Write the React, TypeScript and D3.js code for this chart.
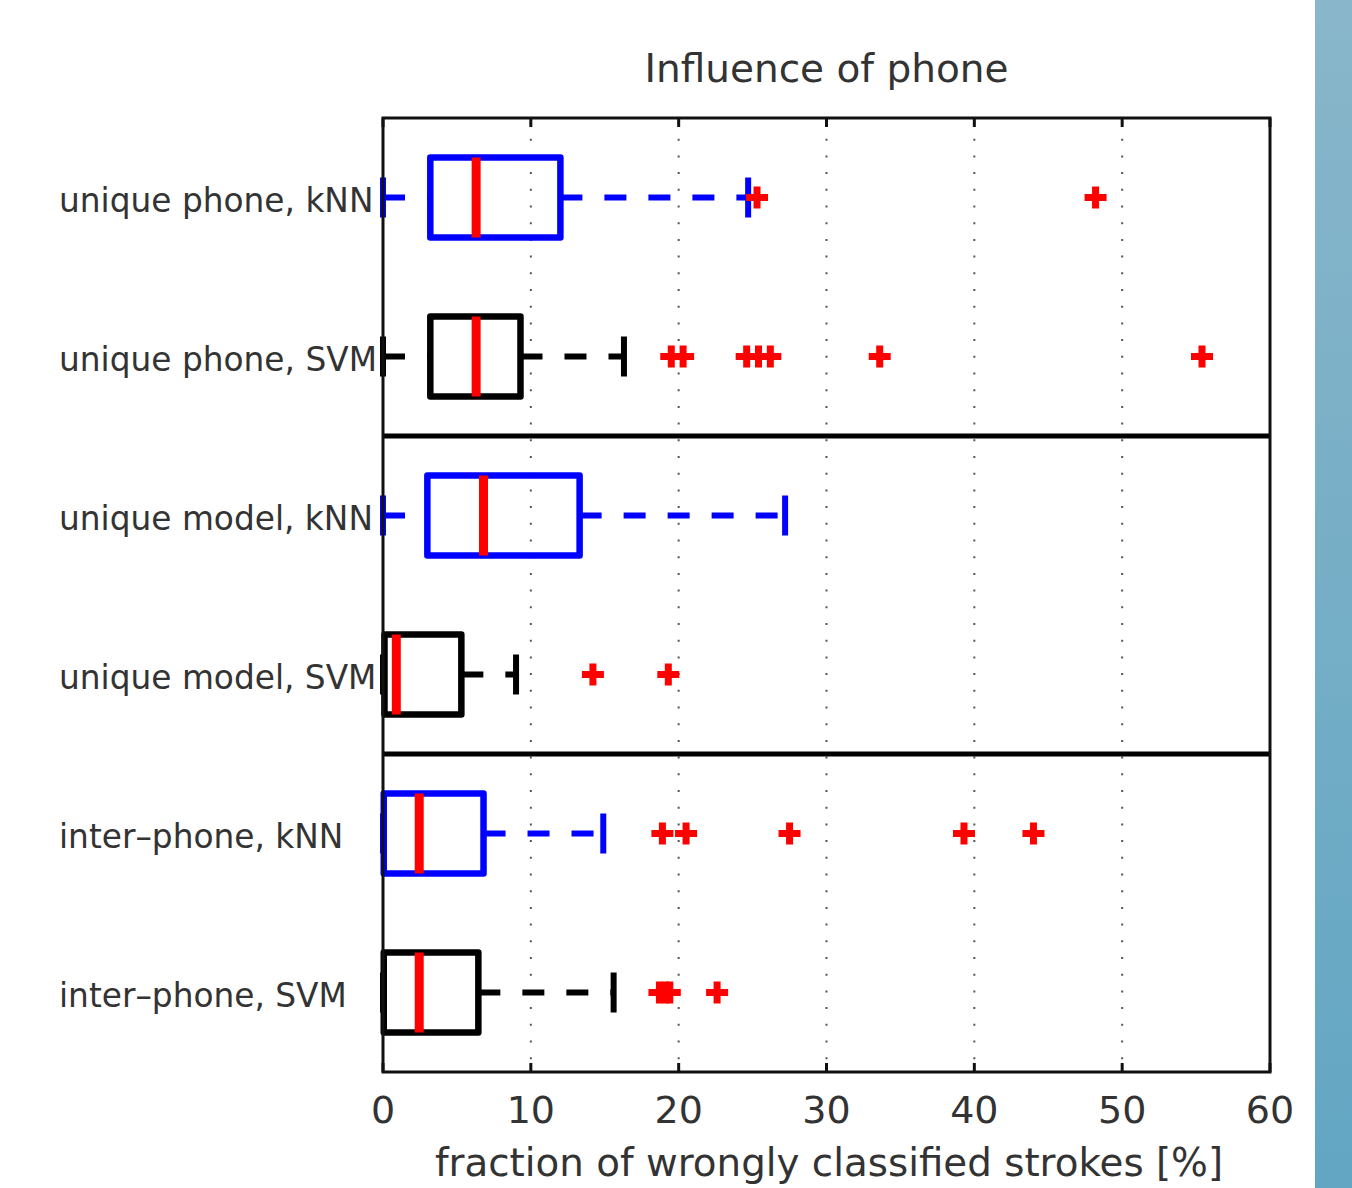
import React from "react";
import * as d3 from "d3";

const categories = [
  "unique phone, kNN",
  "unique phone, SVM",
  "unique model, kNN",
  "unique model, SVM",
  "inter\u2013phone, kNN",
  "inter\u2013phone, SVM",
];
const boxColors = ["#0000ff", "#000000", "#0000ff", "#000000", "#0000ff", "#000000"];
const lowerWhisker = [0, 0, 0, 0, 0, 0];
const q1 = [3.2, 3.2, 3.0, 0.1, 0.05, 0.05];
const median = [6.3, 6.3, 6.8, 0.9, 2.45, 2.45];
const q3 = [12.0, 9.3, 13.3, 5.3, 6.8, 6.45];
const upperWhisker = [24.7, 16.3, 27.2, 9.0, 14.9, 15.6];
const outliers = [
  [25.3, 48.2],
  [19.5, 20.3, 24.6, 25.4, 26.2, 33.6, 55.4],
  [],
  [14.2, 19.3],
  [18.9, 20.5, 27.5, 39.3, 44.0],
  [18.7, 19.1, 19.4, 22.6],
];
const xTicks = [0, 10, 20, 30, 40, 50, 60];
const groupSeparators = [2, 4];

const W = 1352;
const H = 1188;
const left = 383;
const right = 1270;
const top = 118;
const bottom = 1072;

export default function App() {
  const x = d3.scaleLinear().domain([0, 60]).range([left, right]);
  const y = d3.scaleBand<string>().domain(categories).range([top, bottom]).paddingInner(0);
  const bw = y.bandwidth();
  const half = 40;
  const capHalf = 20;
  const font = "'DejaVu Sans', Verdana, sans-serif";

  return (
    <svg
      width={W}
      height={H}
      style={{ position: "absolute", left: 0, top: 0, background: "#fff" }}
    >
      <defs>
        <linearGradient id="sideBar" x1="0" y1="0" x2="0" y2="1">
          <stop offset="0" stopColor="#89b6ca" />
          <stop offset="1" stopColor="#62a6c3" />
        </linearGradient>
      </defs>
      <rect x={1315} y={0} width={W - 1315} height={H} fill="url(#sideBar)" />

      {/* grid */}
      {xTicks.slice(1, -1).map((t) => (
        <line
          key={"g" + t}
          x1={x(t)}
          x2={x(t)}
          y1={top + 4}
          y2={bottom}
          stroke="#555"
          strokeWidth={2}
          strokeDasharray="2 14.7"
        />
      ))}

      {/* ticks */}
      {xTicks.map((t) => (
        <g key={"t" + t}>
          <line x1={x(t)} x2={x(t)} y1={top} y2={top + 9} stroke="#111" strokeWidth={3} />
          <line x1={x(t)} x2={x(t)} y1={bottom} y2={bottom - 9} stroke="#111" strokeWidth={3} />
          <text
            x={x(t)}
            y={1123}
            textAnchor="middle"
            fontFamily={font}
            fontSize={38}
            fill="#333"
          >
            {t}
          </text>
        </g>
      ))}

      {/* boxes */}
      {categories.map((c, i) => {
        const cy = (y(c) as number) + bw / 2;
        const col = boxColors[i];
        return (
          <g key={c}>
            {/* lower whisker */}
            <line
              x1={x(lowerWhisker[i])}
              x2={x(q1[i])}
              y1={cy}
              y2={cy}
              stroke={col}
              strokeWidth={6}
              strokeDasharray="22 22"
            />
            <line
              x1={x(lowerWhisker[i])}
              x2={x(lowerWhisker[i])}
              y1={cy - capHalf}
              y2={cy + capHalf}
              stroke={col}
              strokeWidth={6}
            />
            {/* upper whisker */}
            <line
              x1={x(q3[i])}
              x2={x(upperWhisker[i])}
              y1={cy}
              y2={cy}
              stroke={col}
              strokeWidth={6}
              strokeDasharray="22 22"
            />
            <line
              x1={x(upperWhisker[i])}
              x2={x(upperWhisker[i])}
              y1={cy - capHalf}
              y2={cy + capHalf}
              stroke={col}
              strokeWidth={6}
            />
            {/* box */}
            <rect
              x={x(q1[i])}
              y={cy - half}
              width={x(q3[i]) - x(q1[i])}
              height={half * 2}
              fill="none"
              stroke={col}
              strokeWidth={6.5}
              strokeLinejoin="round"
            />
            {/* median */}
            <line
              x1={x(median[i])}
              x2={x(median[i])}
              y1={cy - half}
              y2={cy + half}
              stroke="#ff0000"
              strokeWidth={9}
            />
            {/* outliers */}
            {outliers[i].map((v, k) => (
              <path
                key={k}
                d={`M${x(v) - 11},${cy}H${x(v) + 11}M${x(v)},${cy - 11}V${cy + 11}`}
                stroke="#ff0000"
                strokeWidth={7}
                fill="none"
              />
            ))}
            {/* label */}
            <text
              x={59}
              y={cy + 14}
              fontFamily={font}
              fontSize={32.8}
              fill="#333"
            >
              {c}
            </text>
          </g>
        );
      })}

      {/* group separators */}
      {groupSeparators.map((k) => (
        <line
          key={"s" + k}
          x1={left}
          x2={right}
          y1={y(categories[k]) as number}
          y2={y(categories[k]) as number}
          stroke="#000"
          strokeWidth={5}
        />
      ))}

      {/* frame */}
      <rect
        x={left}
        y={top}
        width={right - left}
        height={bottom - top}
        fill="none"
        stroke="#111"
        strokeWidth={3}
      />

      {/* title */}
      <text
        x={(left + right) / 2}
        y={82}
        textAnchor="middle"
        fontFamily={font}
        fontSize={39}
        fill="#333"
      >
        Influence of phone
      </text>
      {/* x label */}
      <text
        x={829}
        y={1176}
        textAnchor="middle"
        fontFamily={font}
        fontSize={38.8}
        fill="#333"
      >
        fraction of wrongly classified strokes [%]
      </text>
    </svg>
  );
}
